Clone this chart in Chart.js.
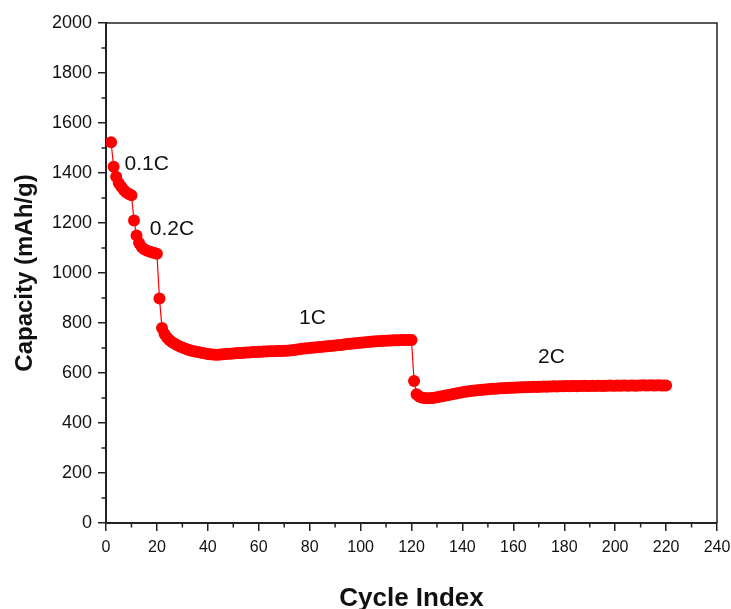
<!DOCTYPE html>
<html>
<head>
<meta charset="utf-8">
<script src="https://cdn.jsdelivr.net/npm/chart.js@4"></script>
<style>
  html, body { margin: 0; padding: 0; background: #fff; }
</style>
</head>
<body>
<canvas id="capChart" width="731" height="609"></canvas>
<script>
// first cycle of each rate step
const firstCycle = [2, 11, 21, 121];

// capacity (mAh/g) per cycle
const rate01 = [1523, 1425, 1385, 1360, 1345, 1332, 1322, 1316, 1311];
const rate02 = [1210, 1150, 1120, 1104, 1095, 1090, 1086, 1083, 1080, 1077];
const rate1 = [
  898, 780, 756, 741, 731, 723, 717, 711, 706, 702,
  698, 694, 691, 688, 686, 684, 682, 680, 678, 676,
  675, 674, 673, 673, 674, 675, 676, 677, 677, 678,
  679, 680, 680, 681, 682, 682, 683, 684, 684, 685,
  685, 686, 686, 687, 687, 687, 688, 688, 688, 689,
  689, 690, 691, 692, 694, 695, 697, 698, 699, 700,
  701, 702, 703, 704, 705, 706, 707, 708, 709, 710,
  711, 712, 713, 715, 716, 717, 718, 719, 720, 721,
  722, 723, 724, 725, 726, 727, 727, 728, 729, 729,
  730, 730, 731, 731, 731, 732, 732, 732, 732, 732
];
const rate2 = [
  568, 515, 506, 502, 500, 499, 499, 500, 501, 503,
  505, 507, 509, 511, 513, 515, 517, 519, 521, 523,
  525, 526, 528, 529, 530, 531, 532, 533, 534, 535,
  536, 537, 537, 538, 539, 539, 540, 540, 541, 541,
  542, 542, 543, 543, 543, 544, 544, 545, 544, 545,
  545, 546, 545, 546, 546, 547, 546, 547, 547, 547,
  548, 547, 548, 548, 547, 548, 548, 549, 548, 548,
  549, 548, 549, 549, 548, 549, 549, 550, 549, 549,
  550, 549, 550, 550, 549, 550, 550, 549, 550, 550,
  551, 550, 550, 551, 550, 550, 551, 550, 550, 550
];

// rate annotations (text, cycle, capacity)
const rateLabels = ['0.1C', '0.2C', '1C', '2C'];
const labelCycle = [7.3, 17.2, 75.8, 169.7];
const labelCapacity = [1436, 1176, 820, 664];

const xTicks = [0, 20, 40, 60, 80, 100, 120, 140, 160, 180, 200, 220, 240];
const yTicks = [0, 200, 400, 600, 800, 1000, 1200, 1400, 1600, 1800, 2000];

const points = [];
[rate01, rate02, rate1, rate2].forEach((vals, i) => {
  vals.forEach((v, j) => points.push({ x: firstCycle[i] + j, y: v }));
});

const AXIS = '#222';
const TEXT = '#111';
const FONT = 'Arial, "Liberation Sans", sans-serif';

const extras = {
  id: 'extras',
  afterDraw(chart) {
    const { ctx, chartArea: a, scales } = chart;
    const x = scales.x, y = scales.y;
    ctx.save();
    // top and right frame
    ctx.strokeStyle = AXIS;
    ctx.lineWidth = 1.5;
    ctx.beginPath();
    ctx.moveTo(a.left, a.top);
    ctx.lineTo(a.right, a.top);
    ctx.lineTo(a.right, a.bottom);
    ctx.stroke();
    // minor ticks
    ctx.beginPath();
    for (let i = 0; i < xTicks.length - 1; i++) {
      const px = x.getPixelForValue((xTicks[i] + xTicks[i + 1]) / 2);
      ctx.moveTo(px, a.bottom);
      ctx.lineTo(px, a.bottom + 4.5);
    }
    for (let i = 0; i < yTicks.length - 1; i++) {
      const py = y.getPixelForValue((yTicks[i] + yTicks[i + 1]) / 2);
      ctx.moveTo(a.left, py);
      ctx.lineTo(a.left - 4.5, py);
    }
    ctx.stroke();
    // rate labels
    ctx.fillStyle = TEXT;
    ctx.font = '21px ' + FONT;
    ctx.textAlign = 'left';
    ctx.textBaseline = 'middle';
    rateLabels.forEach((t, i) => {
      ctx.fillText(t, x.getPixelForValue(labelCycle[i]), y.getPixelForValue(labelCapacity[i]));
    });
    ctx.restore();
  }
};

new Chart(document.getElementById('capChart'), {
  type: 'line',
  data: {
    datasets: [{
      data: points,
      borderColor: '#ff0000',
      backgroundColor: '#ff0000',
      borderWidth: 1.2,
      pointRadius: 6,
      pointBorderWidth: 0,
      pointBackgroundColor: '#ff0000',
      tension: 0,
    }],
  },
  options: {
    responsive: false,
    devicePixelRatio: 1,
    animation: false,
    layout: { padding: { top: 23, right: 14, left: 0, bottom: 0 } },
    plugins: {
      legend: { display: false },
      tooltip: { enabled: false },
    },
    scales: {
      x: {
        type: 'linear',
        min: 0,
        max: 240,
        afterBuildTicks: (s) => { s.ticks = xTicks.map((v) => ({ value: v })); },
        afterFit: (s) => { s.height = 86; s.paddingRight = 0; },
        ticks: {
          color: TEXT,
          font: { family: FONT, size: 16 },
          padding: 7,
          maxRotation: 0,
          callback: (v) => String(v),
        },
        grid: { drawOnChartArea: false, tickLength: 8, color: AXIS, lineWidth: 1.5 },
        border: { color: AXIS, width: 2 },
        title: {
          display: true,
          text: 'Cycle Index',
          color: TEXT,
          font: { family: FONT, size: 26, weight: 'bold', lineHeight: 1 },
          padding: { top: 0, bottom: -3 },
        },
      },
      y: {
        min: 0,
        max: 2000,
        afterBuildTicks: (s) => { s.ticks = yTicks.map((v) => ({ value: v })); },
        afterFit: (s) => { s.width = 106; },
        ticks: {
          color: TEXT,
          font: { family: FONT, size: 18 },
          padding: 6,
          callback: (v) => String(v),
        },
        grid: { drawOnChartArea: false, tickLength: 8, color: AXIS, lineWidth: 1.5 },
        border: { color: AXIS, width: 2 },
        title: {
          display: true,
          text: 'Capacity (mAh/g)',
          color: TEXT,
          font: { family: FONT, size: 24, weight: 'bold', lineHeight: 1 },
          padding: { top: 13, bottom: 0 },
        },
      },
    },
  },
  plugins: [extras],
});
</script>
</body>
</html>
